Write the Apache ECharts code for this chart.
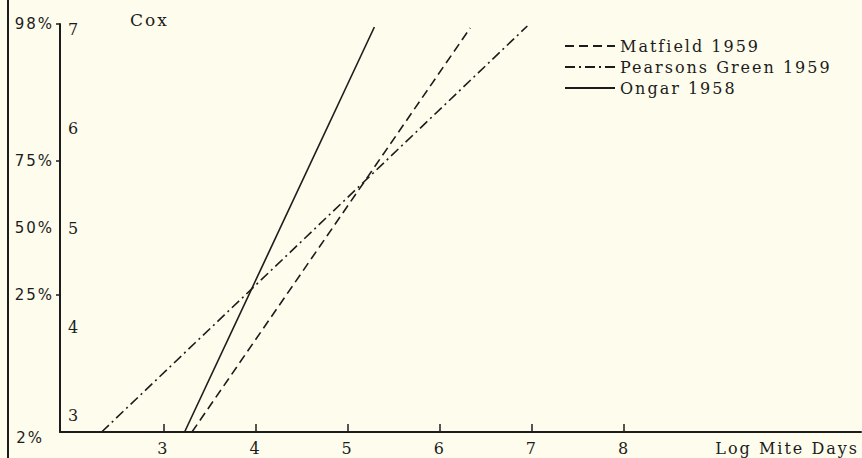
<!DOCTYPE html>
<html>
<head>
<meta charset="utf-8">
<title>Cox - Log Mite Days</title>
<script src="https://cdn.jsdelivr.net/npm/echarts@6/dist/echarts.min.js"></script>
<style>
  html, body { margin: 0; padding: 0; background: #fefcec; }
  #wrap { position: relative; width: 862px; height: 458px; }
  #edge { position: absolute; left: 7px; top: 0; width: 0; height: 458px; border-left: 2px solid #1c1c1c; }
  #chart { width: 862px; height: 458px; }
  /* the typed labels of the original are spaced out */
  #chart svg text { letter-spacing: 2px; }
</style>
</head>
<body>
<div id="wrap">
  <div id="edge"></div>
  <div id="chart"></div>
</div>
<script>
// x ticks (log mite days) and probit ticks
const xTicks = [3, 4, 5, 6, 7, 8]
const probitTicks = [3, 4, 5, 6, 7]
// percent scale shown on the left, placed at its probit value
const pctLabels = ['2%', '25%', '50%', '75%', '98%']
const pctProbits = [2.946, 4.326, 5, 5.674, 7.054]
const pctTickProbits = [4.326, 5.674, 7.054]

// regression lines: [log mite days, probit]
const matfield = [[3.31, 2.946], [6.33, 7.014]]
const pearsonsGreen = [[2.33, 2.946], [6.95, 7.034]]
const ongar = [[3.23, 2.946], [5.29, 7.024]]

const ink = '#1c1c1c'
const serif = 'DejaVu Serif'
const sans = 'DejaVu Sans'

const chart = echarts.init(document.getElementById('chart'), null, { renderer: 'svg' })

const option = {
  backgroundColor: 'transparent',
  animation: false,
  title: {
    text: 'Cox',
    left: 125,
    top: 6,
    textStyle: { fontFamily: serif, fontSize: 17, fontWeight: 'normal', color: ink }
  },
  legend: {
    orient: 'vertical',
    left: 559,
    top: 33,
    itemWidth: 50,
    itemHeight: 12,
    itemGap: 5,
    itemStyle: { opacity: 0 },
    data: ['Matfield 1959', 'Pearsons Green 1959', 'Ongar 1958'],
    textStyle: { fontFamily: serif, fontSize: 16, lineHeight: 16, color: ink }
  },
  grid: { left: 60, right: 0, top: 24, bottom: 26 },
  xAxis: {
    type: 'value',
    min: 1.878,
    max: 10.571,
    name: 'Log Mite Days',
    nameLocation: 'end',
    nameGap: -2,
    nameTextStyle: {
      fontFamily: serif, fontSize: 16, color: ink,
      align: 'right', verticalAlign: 'top', padding: [8, 0, 0, 0]
    },
    axisLine: { lineStyle: { color: ink, width: 2 } },
    axisTick: { show: true, inside: true, length: 8, customValues: xTicks, lineStyle: { color: ink, width: 1.5 } },
    axisLabel: { customValues: xTicks, margin: 8, fontFamily: serif, fontSize: 16, color: ink },
    splitLine: { show: false }
  },
  yAxis: [
    {
      type: 'value',
      min: 2.946,
      max: 7.054,
      axisLine: { show: true, lineStyle: { color: ink, width: 2 } },
      axisTick: { show: false },
      axisLabel: {
        inside: true,
        margin: 8,
        customValues: probitTicks,
        fontFamily: serif,
        fontSize: 16,
        color: ink,
        formatter: v => (v === 3 ? '{up|3}' : String(v)),
        rich: { up: { fontFamily: serif, fontSize: 16, color: ink, padding: [0, 0, 22, 0] } }
      },
      splitLine: { show: false }
    },
    {
      type: 'value',
      position: 'left',
      min: 2.946,
      max: 7.054,
      axisLine: { show: false },
      axisTick: { show: true, length: 4, customValues: pctTickProbits, lineStyle: { color: ink, width: 1.5 } },
      axisLabel: {
        margin: 6,
        customValues: pctProbits,
        fontFamily: sans,
        fontSize: 15,
        color: ink,
        formatter: v => {
          const i = pctProbits.indexOf(v)
          return i === 0 ? '{low|' + pctLabels[0] + '}' : (pctLabels[i] || '')
        },
        rich: { low: { fontFamily: sans, fontSize: 15, color: ink, padding: [12, 10, 0, 0] } }
      },
      splitLine: { show: false }
    }
  ],
  series: [
    {
      name: 'Matfield 1959',
      type: 'line',
      symbol: 'none',
      data: matfield,
      lineStyle: { color: ink, width: 1.6, type: [9, 5] },
      itemStyle: { color: ink }
    },
    {
      name: 'Pearsons Green 1959',
      type: 'line',
      symbol: 'none',
      data: pearsonsGreen,
      lineStyle: { color: ink, width: 1.6, type: [10, 4, 2, 4] },
      itemStyle: { color: ink }
    },
    {
      name: 'Ongar 1958',
      type: 'line',
      symbol: 'none',
      data: ongar,
      lineStyle: { color: ink, width: 1.6 },
      itemStyle: { color: ink }
    }
  ]
}

chart.setOption(option)
</script>
</body>
</html>
